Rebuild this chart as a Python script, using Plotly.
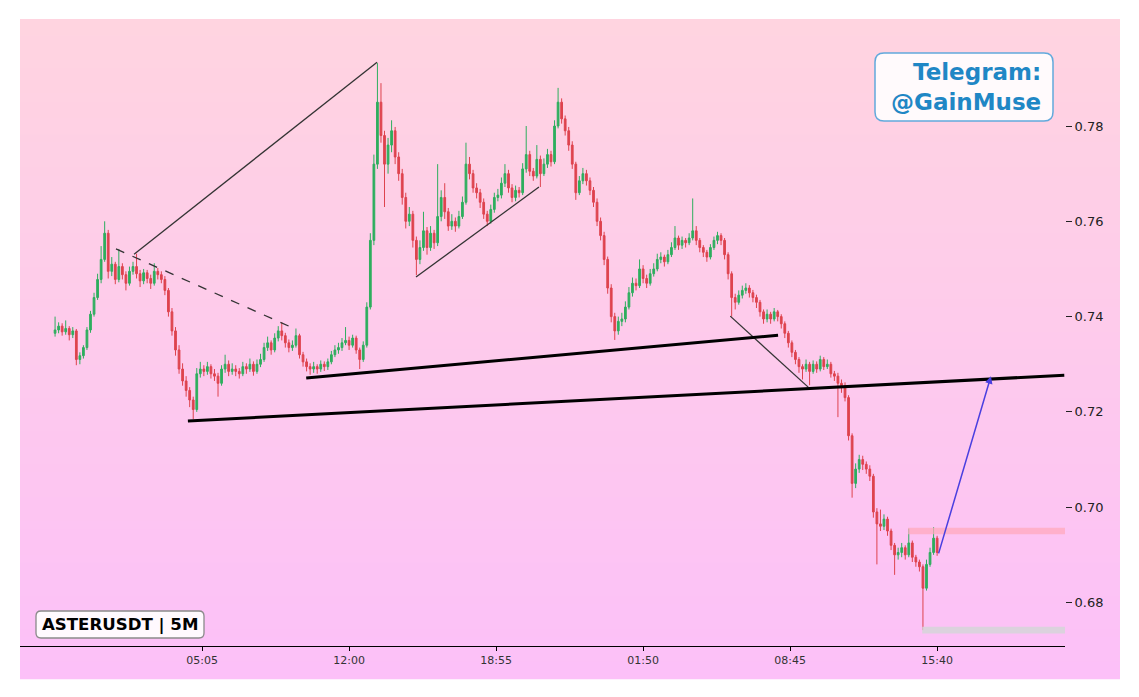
import plotly.graph_objects as go
import pandas as pd

# 10 minute candles, ASTERUSDT
start_time = "2025-10-04 22:10"
first_open = 0.7365
closes = [
    0.7372, 0.7380, 0.7368, 0.7375, 0.7362, 0.7370, 0.7310, 0.7318, 0.7335, 0.7372,
    0.7405, 0.7440, 0.7478, 0.7520, 0.7575, 0.7495, 0.7510, 0.7478, 0.7505, 0.7488,
    0.7470, 0.7495, 0.7505, 0.7490, 0.7475, 0.7492, 0.7480, 0.7470, 0.7495, 0.7488,
    0.7478, 0.7455, 0.7410, 0.7370, 0.7330, 0.7290, 0.7265, 0.7245, 0.7225, 0.7205,
    0.7280, 0.7290, 0.7285, 0.7295, 0.7280, 0.7275, 0.7260, 0.7290, 0.7300, 0.7285,
    0.7290, 0.7285, 0.7280, 0.7295, 0.7290, 0.7300, 0.7285, 0.7300, 0.7310, 0.7335,
    0.7345, 0.7330, 0.7355, 0.7370, 0.7360, 0.7345, 0.7335, 0.7340, 0.7360, 0.7320,
    0.7305, 0.7295, 0.7290, 0.7295, 0.7290, 0.7300, 0.7295, 0.7305, 0.7320, 0.7330,
    0.7335, 0.7345, 0.7350, 0.7340, 0.7355, 0.7330, 0.7310, 0.7340, 0.7420, 0.7560,
    0.7720, 0.7850, 0.7780, 0.7720, 0.7760, 0.7790, 0.7735, 0.7700, 0.7650, 0.7600,
    0.7615, 0.7560, 0.7520, 0.7545, 0.7580, 0.7545, 0.7575, 0.7555, 0.7610, 0.7650,
    0.7620, 0.7590, 0.7600, 0.7590, 0.7610, 0.7640, 0.7720, 0.7700, 0.7670, 0.7660,
    0.7640, 0.7615, 0.7600, 0.7625, 0.7650, 0.7655, 0.7680, 0.7700, 0.7670, 0.7650,
    0.7665, 0.7660, 0.7710, 0.7740, 0.7705, 0.7695, 0.7730, 0.7700, 0.7720, 0.7740,
    0.7725, 0.7800, 0.7850, 0.7815, 0.7790, 0.7760, 0.7720, 0.7660, 0.7685, 0.7700,
    0.7685, 0.7665, 0.7640, 0.7600, 0.7570, 0.7520, 0.7460, 0.7400, 0.7370, 0.7390,
    0.7395, 0.7420, 0.7450, 0.7470, 0.7465, 0.7500, 0.7480, 0.7470, 0.7490, 0.7500,
    0.7520, 0.7525, 0.7515, 0.7530, 0.7545, 0.7565, 0.7550, 0.7560, 0.7555, 0.7565,
    0.7580, 0.7560, 0.7545, 0.7535, 0.7525, 0.7545, 0.7560, 0.7570, 0.7560, 0.7530,
    0.7490, 0.7440, 0.7430, 0.7445, 0.7455, 0.7460, 0.7450, 0.7440, 0.7430, 0.7410,
    0.7395, 0.7405, 0.7395, 0.7410, 0.7400, 0.7385, 0.7365, 0.7345, 0.7325, 0.7310,
    0.7295, 0.7290, 0.7300, 0.7285, 0.7300, 0.7290, 0.7310, 0.7295, 0.7300, 0.7280,
    0.7275, 0.7260, 0.7255, 0.7230, 0.7150, 0.7050, 0.7080, 0.7100, 0.7090, 0.7080,
    0.7065, 0.6990, 0.6965, 0.6960, 0.6975, 0.6950, 0.6920, 0.6900, 0.6905, 0.6915,
    0.6900, 0.6925, 0.6895, 0.6885, 0.6875, 0.6830, 0.6880, 0.6905, 0.6935, 0.6905,
]
highs = [
    0.7400, 0.7388, 0.7386, 0.7392, 0.7380, 0.7378, 0.7374, 0.7325, 0.7340, 0.7378,
    0.7412, 0.7450, 0.7490, 0.7548, 0.7600, 0.7582, 0.7525, 0.7515, 0.7542, 0.7512,
    0.7495, 0.7505, 0.7515, 0.7532, 0.7498, 0.7500, 0.7498, 0.7488, 0.7512, 0.7502,
    0.7495, 0.7485, 0.7460, 0.7418, 0.7378, 0.7340, 0.7302, 0.7275, 0.7252, 0.7232,
    0.7292, 0.7305, 0.7298, 0.7305, 0.7300, 0.7290, 0.7282, 0.7298, 0.7320, 0.7308,
    0.7302, 0.7298, 0.7292, 0.7305, 0.7302, 0.7312, 0.7306, 0.7310, 0.7322, 0.7345,
    0.7358, 0.7350, 0.7365, 0.7380, 0.7388, 0.7366, 0.7352, 0.7350, 0.7375, 0.7364,
    0.7326, 0.7312, 0.7302, 0.7305, 0.7300, 0.7308, 0.7306, 0.7312, 0.7328, 0.7340,
    0.7345, 0.7355, 0.7378, 0.7358, 0.7362, 0.7360, 0.7335, 0.7348, 0.7430, 0.7575,
    0.7740, 0.7932, 0.7890, 0.7790, 0.7775, 0.7812, 0.7798, 0.7745, 0.7710, 0.7660,
    0.7630, 0.7622, 0.7568, 0.7560, 0.7620, 0.7588, 0.7590, 0.7582, 0.7720, 0.7665,
    0.7680, 0.7628, 0.7615, 0.7608, 0.7622, 0.7652, 0.7765, 0.7735, 0.7708, 0.7680,
    0.7668, 0.7648, 0.7622, 0.7635, 0.7660, 0.7668, 0.7692, 0.7720, 0.7708, 0.7678,
    0.7675, 0.7672, 0.7722, 0.7800, 0.7748, 0.7712, 0.7760, 0.7738, 0.7732, 0.7752,
    0.7748, 0.7812, 0.7880, 0.7858, 0.7822, 0.7798, 0.7768, 0.7725, 0.7695, 0.7712,
    0.7708, 0.7692, 0.7672, 0.7648, 0.7608, 0.7578, 0.7526, 0.7468, 0.7408, 0.7400,
    0.7408, 0.7432, 0.7462, 0.7482, 0.7480, 0.7520, 0.7508, 0.7488, 0.7500, 0.7512,
    0.7532, 0.7535, 0.7530, 0.7540, 0.7556, 0.7590, 0.7570, 0.7568, 0.7565, 0.7575,
    0.7648, 0.7590, 0.7565, 0.7550, 0.7540, 0.7552, 0.7568, 0.7578, 0.7575, 0.7565,
    0.7535, 0.7495, 0.7448, 0.7455, 0.7465, 0.7470, 0.7466, 0.7456, 0.7446, 0.7435,
    0.7415, 0.7415, 0.7410, 0.7418, 0.7414, 0.7405, 0.7390, 0.7370, 0.7350, 0.7330,
    0.7315, 0.7300, 0.7310, 0.7305, 0.7308, 0.7306, 0.7318, 0.7315, 0.7310, 0.7305,
    0.7286, 0.7282, 0.7268, 0.7262, 0.7235, 0.7155, 0.7092, 0.7110, 0.7108, 0.7096,
    0.7088, 0.7070, 0.6998, 0.6995, 0.6985, 0.6980, 0.6955, 0.6925, 0.6915, 0.6925,
    0.6920, 0.6955, 0.6930, 0.6900, 0.6890, 0.6880, 0.6890, 0.6915, 0.6958, 0.6940,
]
lows = [
    0.7358, 0.7365, 0.7360, 0.7362, 0.7350, 0.7355, 0.7298, 0.7300, 0.7312, 0.7330,
    0.7366, 0.7400, 0.7435, 0.7470, 0.7515, 0.7480, 0.7485, 0.7468, 0.7472, 0.7478,
    0.7455, 0.7465, 0.7488, 0.7480, 0.7462, 0.7468, 0.7470, 0.7458, 0.7465, 0.7478,
    0.7470, 0.7445, 0.7400, 0.7360, 0.7318, 0.7280, 0.7255, 0.7232, 0.7210, 0.7185,
    0.7200, 0.7272, 0.7275, 0.7278, 0.7270, 0.7265, 0.7232, 0.7255, 0.7282, 0.7275,
    0.7278, 0.7275, 0.7270, 0.7275, 0.7280, 0.7284, 0.7276, 0.7280, 0.7294, 0.7305,
    0.7328, 0.7320, 0.7325, 0.7348, 0.7350, 0.7335, 0.7325, 0.7328, 0.7335, 0.7312,
    0.7295, 0.7285, 0.7278, 0.7282, 0.7280, 0.7284, 0.7286, 0.7288, 0.7300, 0.7315,
    0.7322, 0.7328, 0.7340, 0.7330, 0.7335, 0.7322, 0.7290, 0.7305, 0.7335, 0.7415,
    0.7550, 0.7710, 0.7765, 0.7630, 0.7700, 0.7745, 0.7720, 0.7685, 0.7635, 0.7585,
    0.7590, 0.7545, 0.7487, 0.7510, 0.7538, 0.7530, 0.7538, 0.7542, 0.7548, 0.7600,
    0.7605, 0.7580, 0.7582, 0.7578, 0.7585, 0.7605, 0.7635, 0.7688, 0.7660, 0.7648,
    0.7628, 0.7605, 0.7590, 0.7595, 0.7618, 0.7642, 0.7648, 0.7672, 0.7660, 0.7640,
    0.7642, 0.7650, 0.7655, 0.7702, 0.7695, 0.7685, 0.7690, 0.7672, 0.7695, 0.7712,
    0.7715, 0.7720, 0.7795, 0.7805, 0.7780, 0.7748, 0.7710, 0.7645, 0.7655, 0.7678,
    0.7675, 0.7655, 0.7630, 0.7590, 0.7560, 0.7508, 0.7448, 0.7388, 0.7351, 0.7362,
    0.7380, 0.7388, 0.7415, 0.7442, 0.7455, 0.7460, 0.7470, 0.7460, 0.7465, 0.7484,
    0.7495, 0.7512, 0.7505, 0.7510, 0.7525, 0.7540, 0.7540, 0.7542, 0.7545, 0.7550,
    0.7560, 0.7550, 0.7535, 0.7525, 0.7515, 0.7520, 0.7540, 0.7552, 0.7550, 0.7520,
    0.7478, 0.7400, 0.7415, 0.7425, 0.7438, 0.7448, 0.7440, 0.7430, 0.7418, 0.7400,
    0.7385, 0.7388, 0.7385, 0.7390, 0.7390, 0.7375, 0.7355, 0.7335, 0.7315, 0.7300,
    0.7282, 0.7268, 0.7284, 0.7256, 0.7280, 0.7282, 0.7285, 0.7288, 0.7290, 0.7272,
    0.7265, 0.7189, 0.7240, 0.7222, 0.7140, 0.7020, 0.7040, 0.7072, 0.7078, 0.7070,
    0.7055, 0.6978, 0.6880, 0.6950, 0.6952, 0.6940, 0.6910, 0.6858, 0.6890, 0.6895,
    0.6890, 0.6895, 0.6885, 0.6875, 0.6865, 0.6742, 0.6825, 0.6875, 0.6900, 0.6898,
]
opens = [first_open] + closes[:-1]
times = pd.date_range(start_time, periods=len(closes), freq="10min")

tick_times = ["2025-10-05 05:05", "2025-10-05 12:00", "2025-10-05 18:55",
              "2025-10-06 01:50", "2025-10-06 08:45", "2025-10-06 15:40"]
tick_labels = ["05:05", "12:00", "18:55", "01:50", "08:45", "15:40"]
price_ticks = [0.68, 0.70, 0.72, 0.74, 0.76, 0.78]

# drawn trend lines: (time0, price0, time1, price1)
thin_lines = [
    ("2025-10-05 01:53", 0.7531, "2025-10-05 13:19", 0.7934),
    ("2025-10-05 15:09", 0.7483, "2025-10-05 20:56", 0.7672),
    ("2025-10-06 05:56", 0.7401, "2025-10-06 09:36", 0.7252),
]
dashed_line = ("2025-10-05 01:02", 0.7542, "2025-10-05 09:28", 0.7374)
thick_lines = [
    ("2025-10-05 09:59", 0.7271, "2025-10-06 08:11", 0.7361),
    ("2025-10-05 04:25", 0.7181, "2025-10-06 21:39", 0.7277),
]
arrow = ("2025-10-06 15:43", 0.6900, "2025-10-06 18:12", 0.7275)
target_zone = ("2025-10-06 14:18", 0.6950)
stop_zone = ("2025-10-06 14:58", 0.6742)

x_start = "2025-10-04 20:31"
x_end = "2025-10-06 21:41"
y_min, y_max = 0.67087, 0.80015

# the page puts the figure 8px in from the corner, so work in screen pixels minus that
OFF = 8
W, H = 1139, 697
L, T = 20 - OFF, 30 - OFF
R, B = W - (1065 - OFF), H - (646 - OFF)
PW, PH = W - L - R, H - T - B


def paper_x(px):
    return (px - OFF - L) / PW


def paper_y(py):
    return (H - B - (py - OFF)) / PH


def rounded_box(x0, y0, x1, y1, r):
    # screen pixel corners -> paper path with rounded corners
    a, b = paper_x(x0), paper_x(x1)
    top, bot = paper_y(y0), paper_y(y1)
    rx, ry = r / PW, r / PH
    return (f"M {a + rx} {top} L {b - rx} {top} Q {b} {top} {b} {top - ry} "
            f"L {b} {bot + ry} Q {b} {bot} {b - rx} {bot} L {a + rx} {bot} "
            f"Q {a} {bot} {a} {bot + ry} L {a} {top - ry} Q {a} {top} {a + rx} {top} Z")


fig = go.Figure()
fig.add_trace(go.Candlestick(
    x=times, open=opens, high=highs, low=lows, close=closes,
    increasing=dict(line=dict(color='#2eae5e', width=1), fillcolor='#2eae5e'),
    decreasing=dict(line=dict(color='#de434e', width=1), fillcolor='#de434e'),
    whiskerwidth=0, showlegend=False,
))

shapes = []
# vertical pink gradient behind everything
n_bands = 80
top_rgb, bot_rgb = (255, 212, 224), (252, 192, 248)
y_top, y_bot = paper_y(19), paper_y(678)
for i in range(n_bands):
    f = i / (n_bands - 1)
    c = tuple(round(top_rgb[j] + (bot_rgb[j] - top_rgb[j]) * f) for j in range(3))
    y0 = y_top - (y_top - y_bot) * i / n_bands
    y1 = y_top - (y_top - y_bot) * (i + 1) / n_bands
    shapes.append(dict(type='rect', xref='paper', yref='paper', x0=paper_x(20), x1=paper_x(1120),
                       y0=y1 - 0.002, y1=y0, fillcolor='rgb(%d,%d,%d)' % c, line_width=0, layer='below'))

shapes.append(dict(type='rect', xref='x', yref='y', x0=target_zone[0], x1=x_end,
                   y0=target_zone[1] - 0.0007, y1=target_zone[1] + 0.0007,
                   fillcolor='rgba(255,170,190,0.75)', line_width=0))
shapes.append(dict(type='rect', xref='x', yref='y', x0=stop_zone[0], x1=x_end,
                   y0=stop_zone[1] - 0.0007, y1=stop_zone[1] + 0.0007,
                   fillcolor='rgba(215,212,218,0.9)', line_width=0))

for t0, p0, t1, p1 in thin_lines:
    shapes.append(dict(type='line', xref='x', yref='y', x0=t0, y0=p0, x1=t1, y1=p1,
                       line=dict(color='#333333', width=1.3)))
t0, p0, t1, p1 = dashed_line
shapes.append(dict(type='line', xref='x', yref='y', x0=t0, y0=p0, x1=t1, y1=p1,
                   line=dict(color='#333333', width=1.3, dash='dash')))
for t0, p0, t1, p1 in thick_lines:
    shapes.append(dict(type='line', xref='x', yref='y', x0=t0, y0=p0, x1=t1, y1=p1,
                       line=dict(color='black', width=3)))

# label boxes
shapes.append(dict(type='path', xref='paper', yref='paper', path=rounded_box(875, 53, 1053, 121, 9),
                   fillcolor='rgba(255,255,255,0.88)', line=dict(color='#62a9dc', width=1.5)))
shapes.append(dict(type='path', xref='paper', yref='paper', path=rounded_box(36, 611, 204, 638, 5),
                   fillcolor='rgba(255,255,255,0.9)', line=dict(color='#8a8a8a', width=1.3)))

annotations = [
    dict(x=paper_x(1043), y=paper_y(87), xref='paper', yref='paper',
         text='<b>Telegram:</b><br><b>@GainMuse</b>', align='right',
         showarrow=False, xanchor='right', yanchor='middle',
         font=dict(family='DejaVu Sans', size=23, color='#1f87c5')),
    dict(x=paper_x(120), y=paper_y(625), xref='paper', yref='paper', text='<b>ASTERUSDT | 5M</b>',
         showarrow=False, xanchor='center', yanchor='middle',
         font=dict(family='DejaVu Sans', size=16.6, color='black')),
    dict(x=arrow[2], y=arrow[3], ax=arrow[0], ay=arrow[1], xref='x', yref='y', axref='x', ayref='y',
         text='', showarrow=True, arrowhead=2, arrowsize=1, arrowwidth=1.5, arrowcolor='#4a3fe0'),
]

fig.update_layout(
    width=W, height=H,
    margin=dict(l=L, r=R, t=T, b=B),
    paper_bgcolor='white', plot_bgcolor='rgba(0,0,0,0)',
    font=dict(family='DejaVu Sans', color='#222'),
    shapes=shapes, annotations=annotations,
    showlegend=False,
)
fig.update_xaxes(
    range=[x_start, x_end], rangeslider_visible=False, showgrid=False, zeroline=False,
    showline=True, linecolor='black', linewidth=1.3,
    tickvals=tick_times, ticktext=tick_labels, ticks='outside', ticklen=4, tickcolor='black',
    tickfont=dict(size=11, color='#333'),
)
fig.update_yaxes(
    range=[y_min, y_max], side='right', showgrid=False, zeroline=False, showline=False,
    tickvals=price_ticks, tickformat='.2f', ticks='outside', ticklen=6, tickcolor='#222',
    tickfont=dict(size=13, color='#222'),
)

fig.write_html("out.html")
